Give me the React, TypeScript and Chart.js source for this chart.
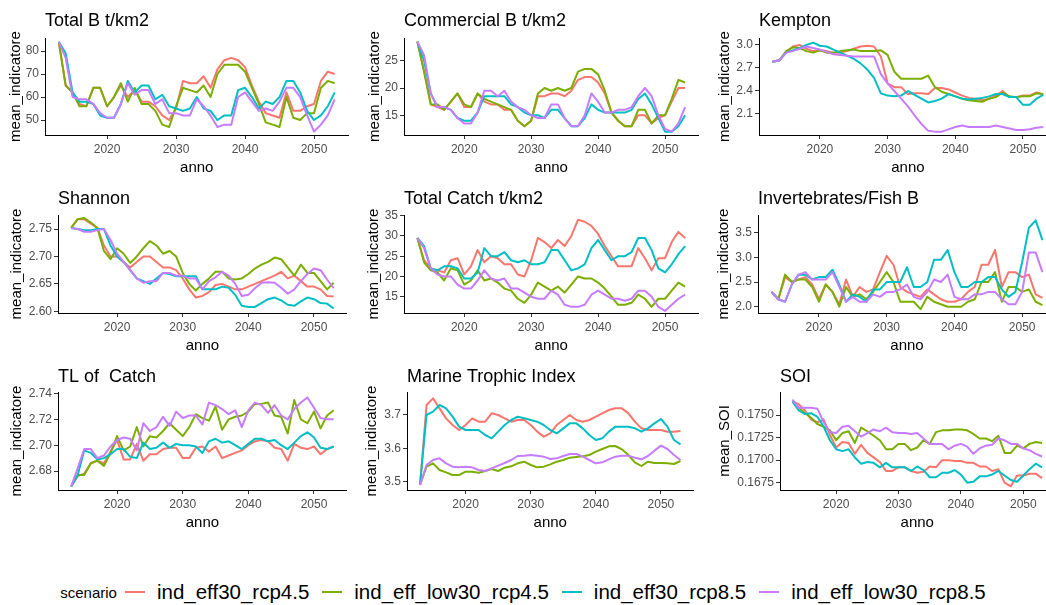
import React, { useEffect, useRef } from 'react';
import { Chart, registerables } from 'chart.js';

Chart.register(...registerables);

const FONT = "'Liberation Sans', Arial, Helvetica, sans-serif";

const YEARS = [
  2013, 2014, 2015, 2016, 2017, 2018, 2019, 2020, 2021, 2022, 2023, 2024, 2025, 2026,
  2027, 2028, 2029, 2030, 2031, 2032, 2033, 2034, 2035, 2036, 2037, 2038, 2039, 2040,
  2041, 2042, 2043, 2044, 2045, 2046, 2047, 2048, 2049, 2050, 2051, 2052, 2053,
];
const YEAR_TICKS = [2020, 2030, 2040, 2050];

const SCENARIOS = ['ind_eff30_rcp4.5', 'ind_eff_low30_rcp4.5', 'ind_eff30_rcp8.5', 'ind_eff_low30_rcp8.5'];
const COLORS = ['#F8766D', '#7CAE00', '#00BFC4', '#C77CFF'];

// ---- Total B t/km2 ----
const TOTAL_B_EFF30_45 = [84, 65, 62, 57, 56, 64, 64, 56, 60, 65, 60, 63, 58, 58, 56, 52, 50, 55, 67, 66, 66, 69, 64, 72, 76, 77, 76, 73, 65, 58, 53, 52, 51, 62, 54, 54, 56, 57, 67, 71, 70];
const TOTAL_B_LOW30_45 = [84, 65, 62, 56, 56, 64, 64, 56, 60, 66, 58, 64, 57, 57, 54, 48, 47, 56, 64, 63, 62, 65, 60, 70, 74, 74, 74, 71, 64, 57, 49, 48, 47, 60, 51, 50, 53, 53, 64, 67, 66];
const TOTAL_B_EFF30_85 = [84, 79, 62, 58, 58, 57, 52, 51, 51, 57, 67, 62, 65, 65, 59, 61, 56, 55, 54, 55, 60, 55, 54, 50, 52, 52, 63, 64, 60, 55, 58, 57, 60, 67, 67, 62, 54, 50, 52, 56, 62];
const TOTAL_B_LOW30_85 = [84, 77, 60, 59, 59, 57, 53, 51, 51, 57, 66, 61, 63, 63, 57, 59, 53, 53, 52, 52, 59, 56, 52, 47, 48, 48, 60, 62, 58, 54, 55, 54, 58, 64, 64, 60, 52, 45, 48, 52, 59];

// ---- Commercial B t/km2 ----
const COMM_B_EFF30_45 = [28.5, 23, 17, 16.5, 16, 17.5, 19, 16.5, 16.5, 19, 17.5, 17, 17, 16, 16, 14, 13, 14, 18.5, 18.5, 19, 19, 18.5, 19.5, 21.5, 22, 22, 21, 19, 15.5, 14, 13, 13, 15, 15, 13.5, 14.5, 15, 17.5, 20, 20];
const COMM_B_LOW30_45 = [28.5, 23, 17, 17, 16, 17.5, 19, 17, 16.5, 19, 18, 17.5, 17, 16.5, 16, 14, 13, 14, 19, 20, 19.5, 20, 19.5, 20, 23, 23.5, 23.5, 22.5, 19.5, 15.5, 14, 13, 13, 16, 16, 13.5, 15, 15, 18, 21.5, 21];
const COMM_B_EFF30_85 = [28.5, 25, 19, 16.5, 16.5, 16, 14.5, 14, 14, 15.5, 18.5, 18.5, 18.5, 18.5, 17, 16.5, 15.5, 15, 15, 14.5, 16, 16, 14.5, 13, 13, 14.5, 17, 16, 15.5, 15.5, 15.5, 15.5, 16, 18, 19, 17, 14.5, 12, 12, 13, 15];
const COMM_B_LOW30_85 = [28.5, 26, 19, 16.5, 16.5, 16, 14.5, 13.5, 13.5, 15.5, 19.5, 19.5, 18.5, 19.5, 17.5, 16.5, 16, 15, 14.5, 14.5, 17, 17, 14.5, 13, 13, 15, 19, 17.5, 15.5, 15.5, 16, 16, 16.5, 18.5, 20, 18.5, 15, 12.5, 12, 13.5, 16.5];

// ---- Kempton ----
const KEMPTON_EFF30_45 = [2.78, 2.8, 2.9, 2.98, 3.0, 2.95, 2.92, 2.93, 2.92, 2.9, 2.9, 2.92, 2.95, 2.98, 2.99, 2.98, 2.85, 2.5, 2.45, 2.45, 2.36, 2.37, 2.37, 2.36, 2.44, 2.44, 2.42, 2.38, 2.34, 2.31, 2.3, 2.28, 2.3, 2.34, 2.4, 2.32, 2.32, 2.34, 2.34, 2.38, 2.35];
const KEMPTON_LOW30_45 = [2.78, 2.8, 2.92, 2.97, 2.96, 2.92, 2.9, 2.93, 2.9, 2.9, 2.92, 2.93, 2.94, 2.92, 2.92, 2.92, 2.93, 2.87, 2.65, 2.56, 2.56, 2.56, 2.56, 2.6, 2.45, 2.39, 2.36, 2.33, 2.3, 2.28, 2.27, 2.26, 2.3, 2.32, 2.38, 2.33, 2.32, 2.33, 2.33, 2.37, 2.36];
const KEMPTON_EFF30_85 = [2.78, 2.8, 2.9, 2.93, 2.96, 3.0, 3.03, 2.99, 2.98, 2.94, 2.9, 2.86, 2.82, 2.76, 2.68, 2.57, 2.37, 2.34, 2.33, 2.34, 2.4, 2.35, 2.3, 2.25, 2.27, 2.3, 2.36, 2.33, 2.3, 2.29, 2.3, 2.31, 2.33, 2.36, 2.36, 2.32, 2.32, 2.22, 2.22, 2.3, 2.35];
const KEMPTON_LOW30_85 = [2.78, 2.8, 2.9, 2.92, 2.95, 2.98, 2.96, 2.94, 2.91, 2.88, 2.87, 2.86, 2.85, 2.85, 2.85, 2.85, 2.62, 2.5, 2.4, 2.3, 2.2, 2.08, 1.97, 1.88, 1.87, 1.87, 1.9, 1.93, 1.95, 1.93, 1.93, 1.93, 1.93, 1.95, 1.93, 1.91, 1.89, 1.89, 1.9, 1.92, 1.93];

// ---- Shannon ----
const SHANNON_EFF30_45 = [2.752, 2.768, 2.768, 2.76, 2.752, 2.72, 2.7, 2.7, 2.69, 2.68, 2.69, 2.7, 2.7, 2.69, 2.68, 2.68, 2.675, 2.66, 2.64, 2.625, 2.628, 2.635, 2.648, 2.65, 2.645, 2.64, 2.64, 2.645, 2.65, 2.655, 2.66, 2.665, 2.672, 2.66, 2.665, 2.655, 2.645, 2.645, 2.64, 2.628, 2.627];
const SHANNON_LOW30_45 = [2.752, 2.768, 2.77, 2.762, 2.752, 2.71, 2.695, 2.715, 2.705, 2.688, 2.7, 2.715, 2.728, 2.72, 2.705, 2.71, 2.7, 2.67, 2.65, 2.638, 2.65, 2.66, 2.672, 2.672, 2.66, 2.658, 2.66, 2.668, 2.678, 2.685, 2.69, 2.698, 2.695, 2.68, 2.665, 2.685, 2.67, 2.67, 2.655, 2.64, 2.652];
const SHANNON_EFF30_85 = [2.752, 2.75, 2.748, 2.748, 2.75, 2.75, 2.72, 2.7, 2.69, 2.675, 2.66, 2.655, 2.65, 2.66, 2.67, 2.668, 2.664, 2.664, 2.664, 2.664, 2.64, 2.64, 2.64, 2.645, 2.643, 2.63, 2.61, 2.608, 2.608, 2.615, 2.622, 2.625, 2.62, 2.612, 2.61, 2.618, 2.625, 2.622, 2.615, 2.614, 2.605];
const SHANNON_LOW30_85 = [2.752, 2.75, 2.745, 2.745, 2.748, 2.75, 2.73, 2.705, 2.69, 2.675, 2.66, 2.652, 2.655, 2.655, 2.67, 2.67, 2.665, 2.665, 2.66, 2.66, 2.64, 2.655, 2.662, 2.672, 2.665, 2.65, 2.628, 2.63, 2.642, 2.652, 2.653, 2.652, 2.643, 2.632, 2.64, 2.655, 2.668, 2.678, 2.675, 2.658, 2.642];

// ---- Total Catch t/km2 ----
const CATCH_EFF30_45 = [29.5, 24, 22, 21.5, 21, 24, 24.5, 20.5, 22.5, 26.5, 23.5, 25, 24.5, 23, 23, 20.5, 20, 24, 29.5, 28.5, 27, 29, 27.5, 30, 34, 33.5, 32.5, 30.5, 27.5, 25, 22.5, 22.5, 22.5, 27, 24.5, 21.5, 24.5, 24.5, 28.5, 31, 29.5];
const CATCH_LOW30_45 = [29.5, 23.5, 21.5, 21, 19, 22, 21.5, 18, 19, 21.5, 19, 19.5, 18.5, 17, 16.5, 14.5, 13.5, 15.5, 18.5, 17.5, 16.5, 17.5, 16, 18, 20, 19.5, 19.5, 18.5, 17, 15, 13, 13, 13.5, 15.5, 14.5, 12.5, 14.5, 14.5, 16.5, 18.5, 17.5];
const CATCH_EFF30_85 = [29.5, 27.5, 22, 21.5, 22.5, 22.5, 22, 19.5, 19.5, 21, 27, 25, 25, 26, 24, 23.5, 24, 23, 23, 23.5, 26.5, 26.5, 24, 21.5, 22, 23, 27, 29, 26.5, 24, 25, 25, 26, 29.5, 29.5, 26.5, 22, 21, 23, 25.5, 27.5];
const CATCH_LOW30_85 = [29.5, 27, 22, 20.5, 20, 20, 18, 17, 17, 19, 21.5, 19.5, 19, 19.5, 17, 17, 16, 15, 14.5, 14.5, 16.5, 15.5, 13, 12.5, 12.5, 13, 15.5, 16.5, 15.5, 14.5, 14.5, 14, 14.5, 16.5, 16.5, 15, 12.5, 11.5, 13, 14.5, 15.5];

// ---- Invertebrates/Fish B ----
const INVFISH_EFF30_45 = [2.3, 2.15, 2.6, 2.5, 2.55, 2.6, 2.45, 2.15, 2.45, 2.3, 2.05, 2.55, 2.2, 2.4, 2.3, 2.35, 2.7, 3.03, 2.85, 2.4, 2.3, 2.25, 2.2, 2.35, 2.25, 2.15, 2.1, 2.1, 2.15, 2.3, 2.4, 2.85, 2.85, 3.15, 2.4, 2.7, 2.7, 2.6, 2.65, 2.25, 2.18];
const INVFISH_LOW30_45 = [2.3, 2.15, 2.65, 2.5, 2.55, 2.55, 2.4, 2.1, 2.45, 2.3, 2.0, 2.4, 2.2, 2.25, 2.15, 2.3, 2.5, 2.7, 2.5, 2.1, 2.1, 2.1, 1.95, 2.2, 2.1, 2.05, 2.0, 2.0, 2.0, 2.1, 2.15, 2.5, 2.5, 2.7, 2.1, 2.4, 2.4, 2.3, 2.35, 2.1, 2.03];
const INVFISH_EFF30_85 = [2.3, 2.15, 2.1, 2.45, 2.65, 2.65, 2.55, 2.6, 2.6, 2.75, 2.45, 2.1, 2.25, 2.2, 2.1, 2.35, 2.35, 2.5, 2.5, 2.5, 2.8, 2.4, 2.4, 2.5, 2.95, 2.95, 3.15, 2.7, 2.4, 2.4, 2.5, 2.5, 2.6, 2.6, 2.35, 2.2, 2.3, 2.9, 3.6, 3.75, 3.35];
const INVFISH_LOW30_85 = [2.3, 2.15, 2.1, 2.45, 2.65, 2.7, 2.55, 2.55, 2.55, 2.7, 2.4, 2.1, 2.2, 2.1, 2.1, 2.25, 2.2, 2.3, 2.3, 2.35, 2.45, 2.2, 2.15, 2.3, 2.55, 2.5, 2.65, 2.2, 2.15, 2.15, 2.25, 2.25, 2.3, 2.3, 2.15, 2.05, 2.05, 2.3, 3.1, 3.1, 2.7];

// ---- TL of Catch ----
const TLC_EFF30_45 = [2.668, 2.676, 2.678, 2.686, 2.688, 2.686, 2.695, 2.704, 2.689, 2.689, 2.701, 2.688, 2.693, 2.693, 2.697, 2.698, 2.698, 2.69, 2.69, 2.698, 2.699, 2.695, 2.699, 2.69, 2.692, 2.694, 2.696, 2.7, 2.703, 2.704, 2.703, 2.698, 2.697, 2.688, 2.701, 2.698, 2.697, 2.699, 2.693, 2.697, 2.699];
const TLC_LOW30_45 = [2.668, 2.677, 2.677, 2.686, 2.688, 2.684, 2.694, 2.707, 2.696, 2.699, 2.714, 2.699, 2.707, 2.706, 2.711, 2.717, 2.712, 2.707, 2.714, 2.724, 2.721, 2.719, 2.73, 2.712, 2.72, 2.722, 2.723, 2.726, 2.732, 2.732, 2.733, 2.723, 2.722, 2.709, 2.735, 2.72, 2.717, 2.726, 2.713, 2.723, 2.727];
const TLC_EFF30_85 = [2.668, 2.677, 2.696, 2.694, 2.689, 2.69, 2.693, 2.697, 2.697, 2.691, 2.69, 2.702, 2.697, 2.698, 2.702, 2.698, 2.701, 2.7, 2.7, 2.699, 2.694, 2.703, 2.705, 2.702, 2.703, 2.7, 2.697, 2.701, 2.705, 2.705, 2.703, 2.704, 2.7, 2.697, 2.702, 2.707, 2.71, 2.706, 2.698, 2.697, 2.699];
const TLC_LOW30_85 = [2.668, 2.682, 2.697, 2.697, 2.69, 2.692, 2.699, 2.704, 2.706, 2.705, 2.696, 2.717, 2.711, 2.714, 2.722, 2.715, 2.726, 2.721, 2.723, 2.723, 2.716, 2.733, 2.731, 2.728, 2.724, 2.727, 2.714, 2.727, 2.733, 2.731, 2.725, 2.731, 2.723, 2.72, 2.728, 2.733, 2.737, 2.729, 2.721, 2.72, 2.72];

// ---- Marine Trophic Index ----
const MTI_EFF30_45 = [3.49, 3.73, 3.75, 3.72, 3.69, 3.67, 3.655, 3.67, 3.69, 3.68, 3.68, 3.705, 3.7, 3.69, 3.68, 3.685, 3.685, 3.67, 3.65, 3.635, 3.645, 3.67, 3.685, 3.7, 3.685, 3.68, 3.685, 3.695, 3.705, 3.715, 3.72, 3.72, 3.705, 3.68, 3.66, 3.655, 3.655, 3.655, 3.65, 3.65, 3.652];
const MTI_LOW30_45 = [3.49, 3.545, 3.555, 3.535, 3.528, 3.52, 3.52, 3.53, 3.53, 3.527, 3.532, 3.538, 3.532, 3.542, 3.546, 3.555, 3.56, 3.55, 3.543, 3.545, 3.552, 3.56, 3.565, 3.572, 3.574, 3.576, 3.58, 3.59, 3.598, 3.606, 3.607, 3.597, 3.58, 3.558, 3.547, 3.56, 3.556, 3.556, 3.555, 3.553, 3.562];
const MTI_EFF30_85 = [3.49, 3.7, 3.71, 3.73, 3.72, 3.695, 3.665, 3.655, 3.655, 3.655, 3.64, 3.63, 3.65, 3.67, 3.685, 3.695, 3.69, 3.685, 3.68, 3.67, 3.655, 3.645, 3.66, 3.675, 3.675, 3.66, 3.64, 3.625, 3.63, 3.65, 3.665, 3.665, 3.665, 3.66, 3.65, 3.66, 3.675, 3.688, 3.665, 3.625, 3.612];
const MTI_LOW30_85 = [3.49, 3.55, 3.565, 3.57, 3.555, 3.545, 3.543, 3.545, 3.543, 3.535, 3.532, 3.54, 3.548, 3.556, 3.565, 3.577, 3.578, 3.58, 3.578, 3.575, 3.568, 3.57, 3.577, 3.583, 3.583, 3.575, 3.565, 3.555, 3.558, 3.567, 3.575, 3.578, 3.578, 3.572, 3.567, 3.577, 3.593, 3.608, 3.598, 3.58, 3.565];

// ---- SOI ----
const SOI_EFF30_45 = [0.1765, 0.1762, 0.1755, 0.1745, 0.1742, 0.1745, 0.1728, 0.1714, 0.172, 0.1719, 0.1707, 0.1717, 0.1708, 0.1703, 0.1698, 0.1688, 0.1688, 0.1692, 0.1692, 0.1688, 0.1686, 0.1687, 0.1693, 0.1692, 0.17, 0.17, 0.1699, 0.1699, 0.1697, 0.1697, 0.1693, 0.1693, 0.1688, 0.169, 0.1675, 0.1671, 0.1683, 0.1683, 0.1685, 0.1685, 0.168];
const SOI_LOW30_45 = [0.1765, 0.1758, 0.1752, 0.1747, 0.174, 0.1737, 0.1733, 0.1722, 0.173, 0.1732, 0.1719, 0.1736, 0.1732, 0.1727, 0.1722, 0.1712, 0.1712, 0.1718, 0.1718, 0.1711, 0.1714, 0.1722, 0.1718, 0.1731, 0.1733, 0.1733, 0.1734, 0.1734, 0.1733, 0.1729, 0.1724, 0.1724, 0.1721, 0.1727, 0.1708, 0.1708, 0.1716, 0.1713, 0.1718, 0.172, 0.1719];
const SOI_EFF30_85 = [0.1765, 0.1755, 0.1751, 0.1752, 0.1748, 0.1737, 0.1722, 0.1712, 0.171, 0.1712, 0.1703, 0.1696, 0.1698, 0.1697, 0.1692, 0.1697, 0.1692, 0.1692, 0.1692, 0.1688, 0.1693, 0.1689, 0.1681, 0.1681, 0.1686, 0.1686, 0.1689, 0.1684, 0.1675, 0.1676, 0.1682, 0.1682, 0.1684, 0.1688, 0.1683, 0.1678, 0.1676, 0.1683, 0.169, 0.1696, 0.1692];
const SOI_LOW30_85 = [0.1767, 0.1758, 0.1758, 0.1758, 0.1757, 0.1742, 0.1731, 0.173, 0.1737, 0.1738, 0.1732, 0.1726, 0.173, 0.1734, 0.1732, 0.1736, 0.1731, 0.173, 0.173, 0.1729, 0.173, 0.1724, 0.1718, 0.1718, 0.1718, 0.1712, 0.1716, 0.1718, 0.1715, 0.1707, 0.1713, 0.1716, 0.1717, 0.1724, 0.1722, 0.1718, 0.1718, 0.1713, 0.1711, 0.1707, 0.1704];

// Y tick values for each panel
const TICKS_TOTAL_B = [50, 60, 70, 80];
const TICKS_COMM_B = [15, 20, 25];
const TICKS_KEMPTON = [2.1, 2.4, 2.7, 3.0];
const TICKS_SHANNON = [2.6, 2.65, 2.7, 2.75];
const TICKS_CATCH = [15, 20, 25, 30, 35];
const TICKS_INVFISH = [2.0, 2.5, 3.0, 3.5];
const TICKS_TLC = [2.68, 2.7, 2.72, 2.74];
const TICKS_MTI = [3.5, 3.6, 3.7];
const TICKS_SOI = [0.1675, 0.17, 0.1725, 0.175];

type Spec = {
  title: string;
  yTitle: string;
  series: number[][];
  yMin: number;
  yMax: number;
  yTicks: number[];
  decimals: number;
};

const SPECS: Spec[] = [
  { title: 'Total B t/km2', yTitle: 'mean_indicatore', series: [TOTAL_B_EFF30_45, TOTAL_B_LOW30_45, TOTAL_B_EFF30_85, TOTAL_B_LOW30_85], yMin: 43.5, yMax: 85.65, yTicks: TICKS_TOTAL_B, decimals: 0 },
  { title: 'Commercial B t/km2', yTitle: 'mean_indicatore', series: [COMM_B_EFF30_45, COMM_B_LOW30_45, COMM_B_EFF30_85, COMM_B_LOW30_85], yMin: 11.39, yMax: 29.16, yTicks: TICKS_COMM_B, decimals: 0 },
  { title: 'Kempton', yTitle: 'mean_indicatore', series: [KEMPTON_EFF30_45, KEMPTON_LOW30_45, KEMPTON_EFF30_85, KEMPTON_LOW30_85], yMin: 1.826, yMax: 3.091, yTicks: TICKS_KEMPTON, decimals: 1 },
  { title: 'Shannon', yTitle: 'mean_indicatore', series: [SHANNON_EFF30_45, SHANNON_LOW30_45, SHANNON_EFF30_85, SHANNON_LOW30_85], yMin: 2.5969, yMax: 2.7756, yTicks: TICKS_SHANNON, decimals: 2 },
  { title: 'Total Catch t/km2', yTitle: 'mean_indicatore', series: [CATCH_EFF30_45, CATCH_LOW30_45, CATCH_EFF30_85, CATCH_LOW30_85], yMin: 10.98, yMax: 35.17, yTicks: TICKS_CATCH, decimals: 0 },
  { title: 'Invertebrates/Fish B', yTitle: 'mean_indicatore', series: [INVFISH_EFF30_45, INVFISH_LOW30_45, INVFISH_EFF30_85, INVFISH_LOW30_85], yMin: 1.872, yMax: 3.859, yTicks: TICKS_INVFISH, decimals: 1 },
  { title: 'TL of  Catch', yTitle: 'mean_indicatore', series: [TLC_EFF30_45, TLC_LOW30_45, TLC_EFF30_85, TLC_LOW30_85], yMin: 2.6653, yMax: 2.7412, yTicks: TICKS_TLC, decimals: 2 },
  { title: 'Marine Trophic Index', yTitle: 'mean_indicatore', series: [MTI_EFF30_45, MTI_LOW30_45, MTI_EFF30_85, MTI_LOW30_85], yMin: 3.475, yMax: 3.769, yTicks: TICKS_MTI, decimals: 1 },
  { title: 'SOI', yTitle: 'mean_SOI', series: [SOI_EFF30_45, SOI_LOW30_45, SOI_EFF30_85, SOI_LOW30_85], yMin: 0.16669, yMax: 0.17755, yTicks: TICKS_SOI, decimals: 4 },
];

// Panel frames on the page (pixels)
type Frame = {
  left: number; top: number; width: number; height: number;
  axisX: number; plotRight: number; plotTop: number; plotBottom: number;
  titleMid: number; yTitleOffset: number;
};

const ROWS = [
  { top: 0, height: 180, plotTop: 38, plotBottom: 135, titleMid: 21.3 },
  { top: 180, height: 178, plotTop: 215, plotBottom: 313, titleMid: 198.8 },
  { top: 358, height: 182, plotTop: 392, plotBottom: 490, titleMid: 376.8 },
];
const COLS = [
  { left: 0, width: 352 },
  { left: 352, width: 352 },
  { left: 704, width: 356 },
];
const PANEL_X = [
  { axisX: 45, plotRight: 348.5, yTitleOffset: 29 },
  { axisX: 404, plotRight: 698.5, yTitleOffset: 29.5 },
  { axisX: 759, plotRight: 1056.8, yTitleOffset: 34 },
  { axisX: 58, plotRight: 346.8, yTitleOffset: 41.5 },
  { axisX: 404, plotRight: 698.5, yTitleOffset: 30 },
  { axisX: 758, plotRight: 1056, yTitleOffset: 34 },
  { axisX: 58, plotRight: 346.8, yTitleOffset: 41.5 },
  { axisX: 407, plotRight: 693.5, yTitleOffset: 35 },
  { axisX: 780, plotRight: 1054.5, yTitleOffset: 55 },
];

const FRAMES: Frame[] = PANEL_X.map((p, i) => {
  const r = ROWS[Math.floor(i / 3)];
  const c = COLS[i % 3];
  return {
    left: c.left, top: r.top, width: c.width, height: r.height,
    axisX: p.axisX, plotRight: p.plotRight, plotTop: r.plotTop, plotBottom: r.plotBottom,
    titleMid: r.titleMid, yTitleOffset: p.yTitleOffset,
  };
});

const TITLE_SIZE = 18;
const AXIS_TITLE_SIZE = 15;
const TICK_SIZE = 12;
const X_TITLE_DROP = 33.3;

function Panel({ spec, frame }: { spec: Spec; frame: Frame }) {
  const ref = useRef<HTMLCanvasElement>(null);

  useEffect(() => {
    const canvas = ref.current;
    if (!canvas) return;
    const yAxisWidth = frame.axisX - frame.left;
    const xAxisHeight = frame.top + frame.height - frame.plotBottom;
    const titleLH = TITLE_SIZE * 1.2;
    const titlePadTop = frame.titleMid - frame.top - titleLH / 2;
    const titlePadBottom = frame.plotTop - frame.top - titlePadTop - titleLH;
    const axisLH = AXIS_TITLE_SIZE * 1.2;
    const xTitlePadBottom = xAxisHeight - axisLH / 2 - X_TITLE_DROP;
    const yTitlePadTop = yAxisWidth - frame.yTitleOffset - axisLH / 2;

    const axisGrid = {
      display: true,
      drawOnChartArea: false,
      drawTicks: true,
      tickLength: 4,
      color: '#333333',
      lineWidth: 1,
    };
    const axisBorder = { display: true, color: '#000000', width: 1 };

    const chart = new Chart(canvas, {
      type: 'line',
      data: {
        datasets: spec.series.map((vals, i) => ({
          label: SCENARIOS[i],
          data: YEARS.map((x, j) => ({ x, y: vals[j] })),
          borderColor: COLORS[i],
          backgroundColor: COLORS[i],
          borderWidth: 2,
          pointRadius: 0,
          pointHoverRadius: 0,
          tension: 0,
          fill: false,
          borderJoinStyle: 'round' as const,
          order: 4 - i,
        })),
      },
      options: {
        animation: false,
        responsive: false,
        events: [],
        layout: {
          padding: { left: 0, top: 0, bottom: 0, right: frame.left + frame.width - frame.plotRight },
        },
        plugins: {
          legend: { display: false },
          tooltip: { enabled: false },
          title: {
            display: true,
            text: spec.title,
            align: 'start',
            fullSize: false,
            color: '#000000',
            font: { family: FONT, size: TITLE_SIZE, weight: 'normal', lineHeight: 1.2 },
            padding: { top: titlePadTop, bottom: titlePadBottom },
          },
        },
        scales: {
          x: {
            type: 'linear',
            min: 2011,
            max: 2055,
            afterBuildTicks: (s: any) => {
              s.ticks = YEAR_TICKS.map((v) => ({ value: v }));
            },
            afterFit: (s: any) => {
              s.height = xAxisHeight;
            },
            ticks: {
              callback: (v: any) => String(v),
              color: '#4D4D4D',
              font: { family: FONT, size: TICK_SIZE },
              padding: 3,
              maxRotation: 0,
              autoSkip: false,
            },
            grid: axisGrid,
            border: axisBorder,
            title: {
              display: true,
              text: 'anno',
              color: '#000000',
              font: { family: FONT, size: AXIS_TITLE_SIZE, lineHeight: 1.2 },
              padding: { top: 0, bottom: xTitlePadBottom },
            },
          },
          y: {
            type: 'linear',
            min: spec.yMin,
            max: spec.yMax,
            afterBuildTicks: (s: any) => {
              s.ticks = spec.yTicks.map((v) => ({ value: v }));
            },
            afterFit: (s: any) => {
              s.width = yAxisWidth;
            },
            ticks: {
              callback: (v: any) => Number(v).toFixed(spec.decimals),
              color: '#4D4D4D',
              font: { family: FONT, size: TICK_SIZE },
              padding: 2,
              autoSkip: false,
            },
            grid: axisGrid,
            border: axisBorder,
            title: {
              display: true,
              text: spec.yTitle,
              color: '#000000',
              font: { family: FONT, size: AXIS_TITLE_SIZE, lineHeight: 1.2 },
              padding: { top: yTitlePadTop, bottom: 0 },
            },
          },
        },
      } as any,
    });

    return () => chart.destroy();
  }, [spec, frame]);

  return (
    <canvas
      ref={ref}
      width={frame.width}
      height={frame.height}
      style={{ position: 'absolute', left: frame.left, top: frame.top, width: frame.width, height: frame.height }}
    />
  );
}

function Legend() {
  return (
    <div
      style={{
        position: 'absolute',
        left: 0,
        top: 579,
        width: 1046,
        height: 26,
        display: 'flex',
        alignItems: 'center',
        justifyContent: 'center',
        fontFamily: FONT,
        color: '#000000',
        whiteSpace: 'nowrap',
      }}
    >
      <span style={{ fontSize: 15, marginRight: 8 }}>scenario</span>
      {SCENARIOS.map((s, i) => (
        <React.Fragment key={s}>
          <span
            style={{
              display: 'inline-block',
              width: 20,
              height: 2,
              background: COLORS[i],
              marginLeft: i === 0 ? 0 : 13,
              marginRight: 12,
            }}
          />
          <span style={{ fontSize: 20.5 }}>{s}</span>
        </React.Fragment>
      ))}
    </div>
  );
}

export default function App() {
  return (
    <div
      style={{
        position: 'absolute',
        left: 0,
        top: 0,
        width: 1046,
        height: 605,
        overflow: 'hidden',
        background: '#ffffff',
      }}
    >
      {SPECS.map((spec, i) => (
        <Panel key={spec.title} spec={spec} frame={FRAMES[i]} />
      ))}
      <Legend />
    </div>
  );
}
